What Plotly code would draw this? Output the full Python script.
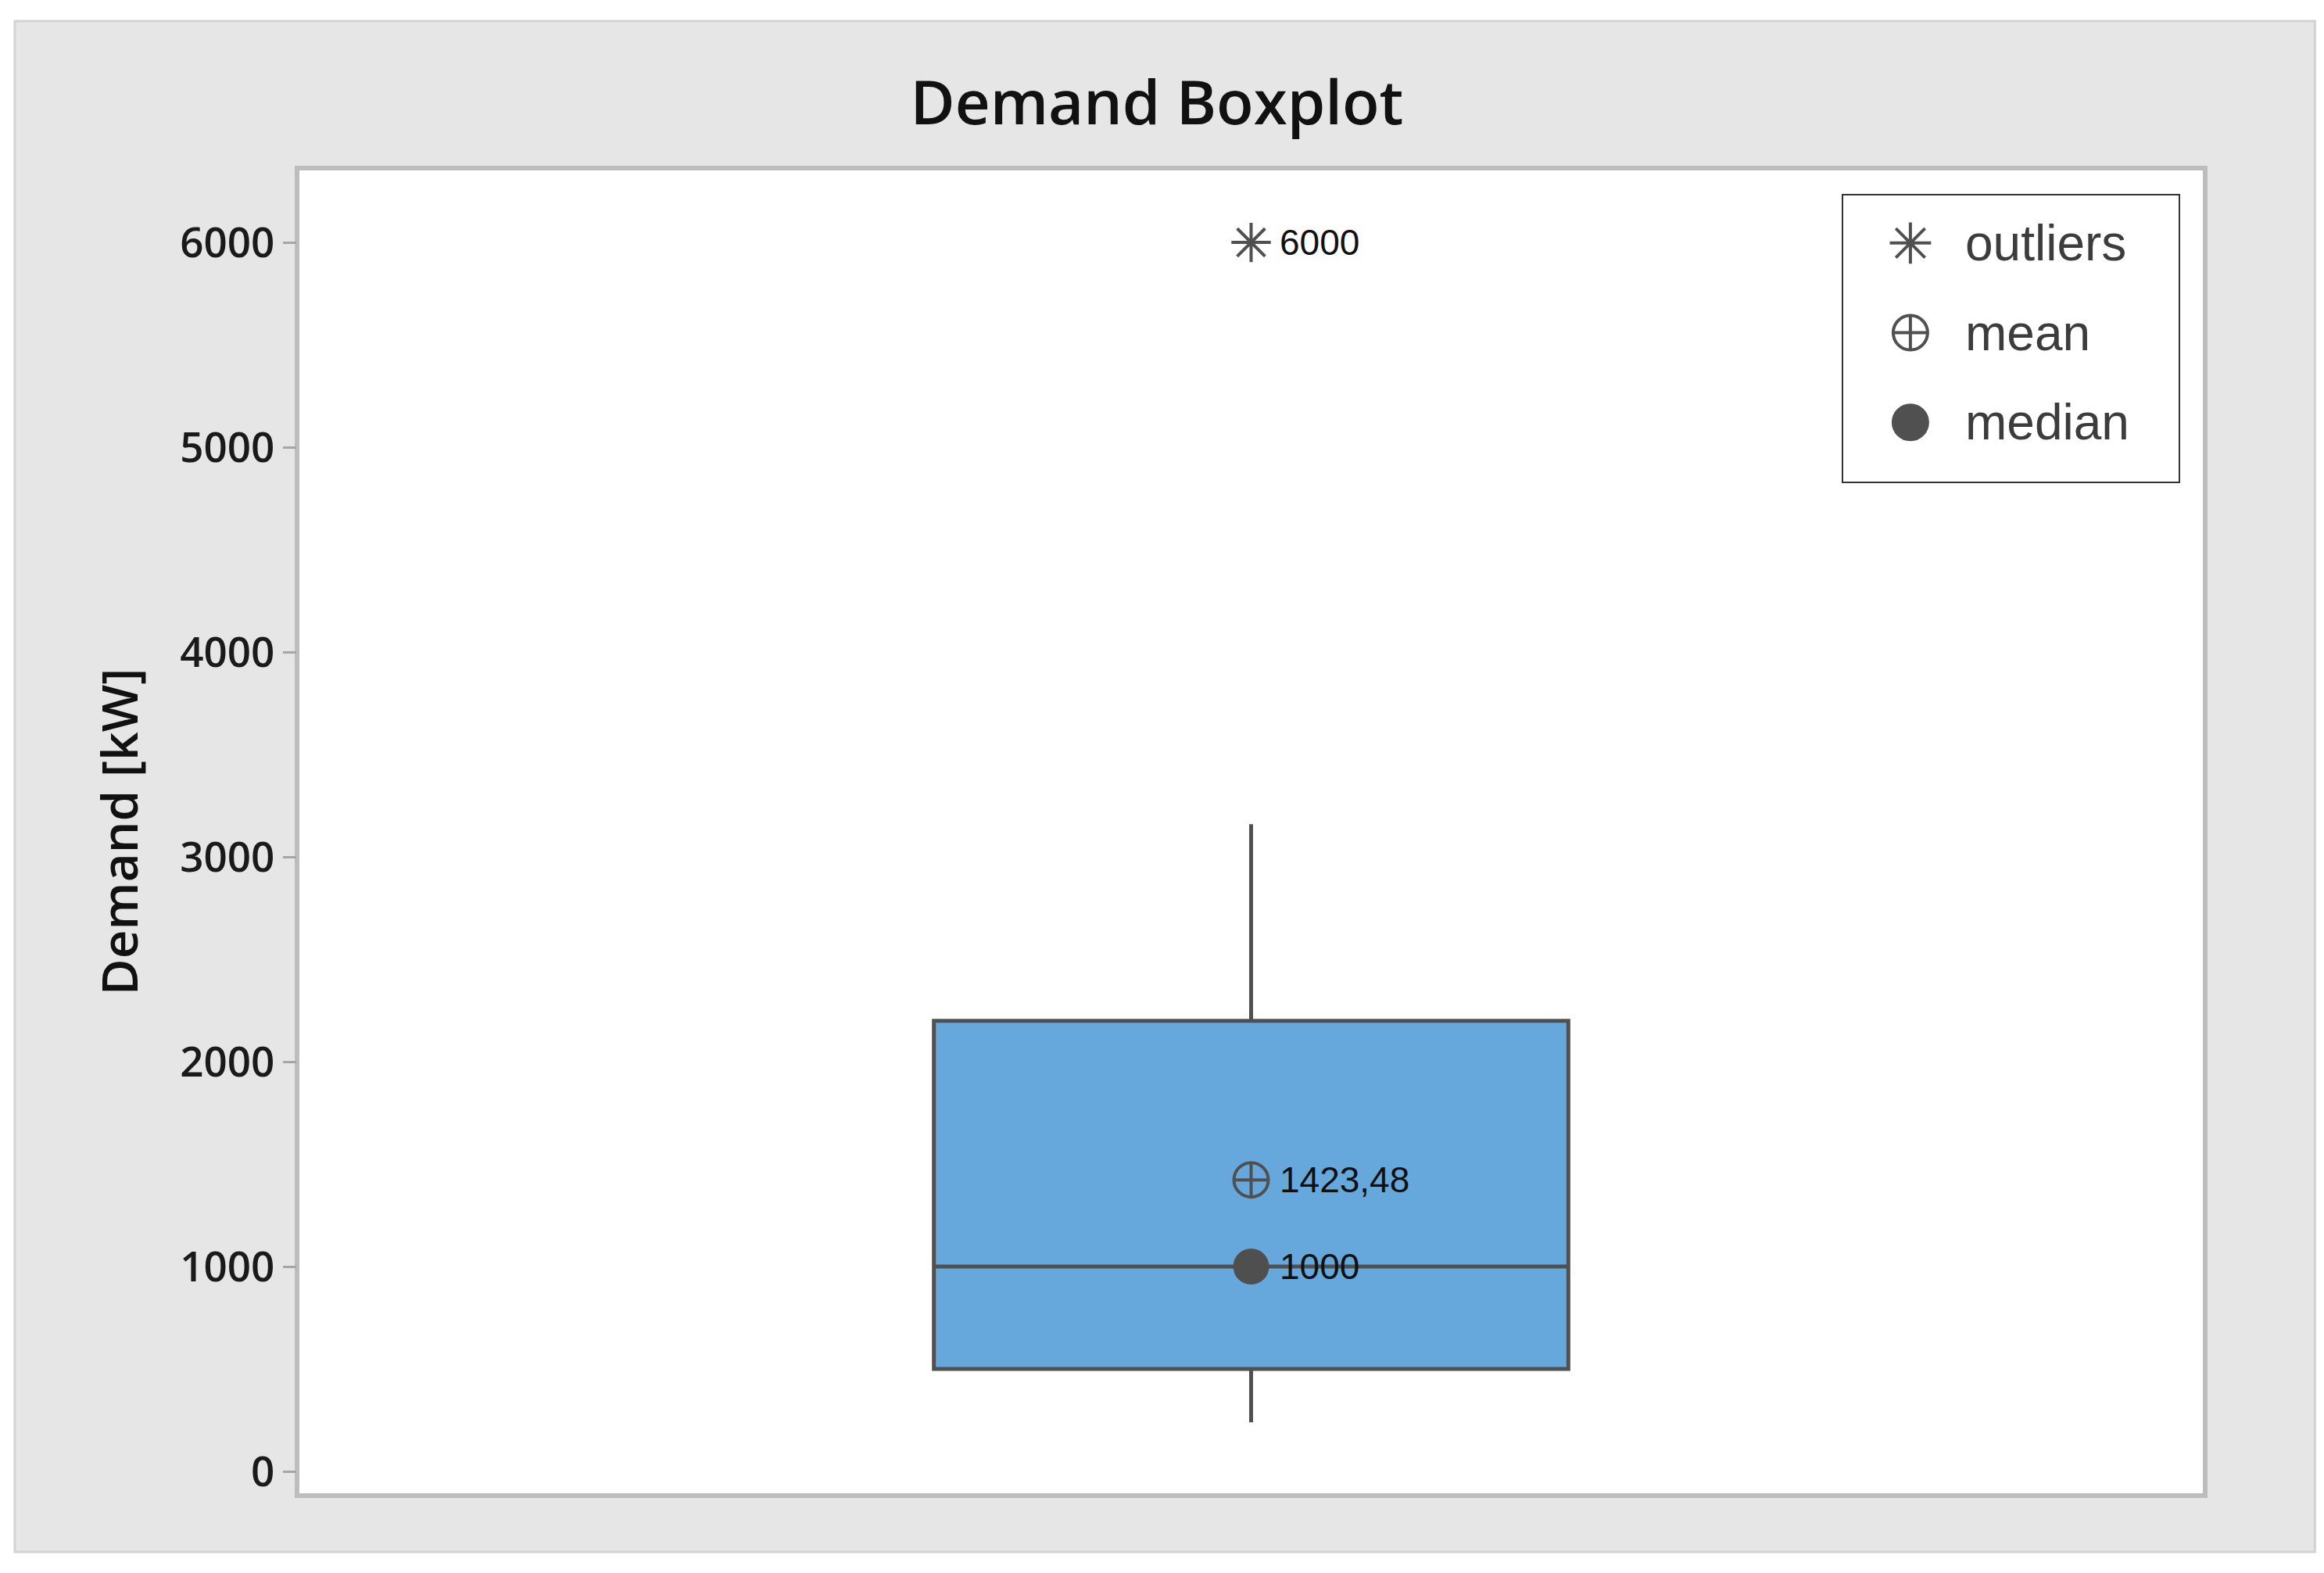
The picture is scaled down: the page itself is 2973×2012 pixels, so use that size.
import plotly.graph_objects as go

# Kennwerte des Boxplots
q1 = 500
median = 1000
q3 = 2200
lower_whisker = 240
upper_whisker = 3160
mean = 1423.48
outliers = [6000]

# Legende
legend_names = ['outliers', 'mean', 'median']
legend_symbols = ['asterisk-open', 'circle-cross-open', 'circle']

y_ticks = [0, 1000, 2000, 3000, 4000, 5000, 6000]

box_color = '#66a8dc'
dark = '#505050'


def fmt(v):
    if float(v).is_integer():
        return str(int(v))
    return f'{v:.2f}'.replace('.', ',')


fig = go.Figure()

# Box
fig.add_trace(go.Box(x=[0], q1=[q1], median=[median], q3=[q3],
                     lowerfence=[lower_whisker], upperfence=[upper_whisker],
                     width=0.665, whiskerwidth=0, boxpoints=False,
                     fillcolor=box_color, line=dict(color=dark, width=5),
                     showlegend=False, hoverinfo='skip'))

# Ausreißer, Mittelwert, Median
fig.add_trace(go.Scatter(x=[0] * len(outliers), y=outliers, mode='markers',
                         marker=dict(symbol='asterisk-open', size=42, color=dark,
                                     line=dict(color=dark, width=4)),
                         showlegend=False))
fig.add_trace(go.Scatter(x=[0], y=[mean], mode='markers',
                         marker=dict(symbol='circle-cross-open', size=44, color=dark,
                                     line=dict(color=dark, width=4)),
                         showlegend=False))
fig.add_trace(go.Scatter(x=[0], y=[median], mode='markers',
                         marker=dict(symbol='circle', size=46, color='#4f4f4f',
                                     line=dict(width=0)),
                         showlegend=False))

annotations = []
for v in outliers + [mean, median]:
    annotations.append(dict(x=0, y=v, xref='x', yref='y', text=fmt(v),
                            showarrow=False, xanchor='left', yanchor='middle',
                            xshift=34,
                            font=dict(family='Liberation Sans', size=46, color='#111111')))

# eigene Legende (große Symbole)
rows = [0.83, 0.52, 0.21]
fig.add_trace(go.Scatter(x=[0.203] * 3, y=rows, mode='markers', xaxis='x2', yaxis='y2',
                         marker=dict(symbol=legend_symbols, size=44, color=dark,
                                     line=dict(color=dark, width=4)),
                         showlegend=False, hoverinfo='skip'))
for name, r in zip(legend_names, rows):
    annotations.append(dict(x=0.36, y=r, xref='x2', yref='y2', text=name,
                            showarrow=False, xanchor='left', yanchor='middle',
                            font=dict(family='Liberation Sans', size=64, color='#3c3c3c')))

shapes = [
    # grauer Rahmen
    dict(type='rect', xref='paper', yref='paper', x0=-0.1479, x1=1.0575, y0=-0.0424, y1=1.1107,
         fillcolor='#e6e6e6', line=dict(color='#d2d2d2', width=3), layer='below'),
    # Plotfläche
    dict(type='rect', xref='paper', yref='paper', x0=0, x1=1, y0=0, y1=1,
         fillcolor='white', line=dict(color='#bdbdbd', width=6), layer='below'),
    # Legendenrahmen
    dict(type='rect', xref='x2', yref='y2', x0=0, x1=1, y0=0, y1=1,
         fillcolor='white', line=dict(color='#333333', width=4), layer='below'),
]

fig.update_layout(
    width=2957, height=1996,
    margin=dict(l=372, r=144, t=207, b=91),
    paper_bgcolor='white', plot_bgcolor='rgba(0,0,0,0)',
    title=dict(text='Demand Boxplot', x=0.4978, xanchor='center', y=0.938, yanchor='middle',
               font=dict(family='Open Sans', size=78, color='#111111', weight=600)),
    xaxis=dict(range=[-1, 1], visible=False),
    yaxis=dict(range=[-118, 6363], tickvals=y_ticks, ticks='outside', ticklen=17,
               tickwidth=3, tickcolor='#a6a6a6', showgrid=False, zeroline=False,
               showline=False,
               tickfont=dict(family='Open Sans', size=53, color='#1a1a1a', weight=600),
               title=dict(text='Demand [kW]', standoff=32,
                          font=dict(family='Open Sans', size=64, color='#111111', weight=600))),
    xaxis2=dict(domain=[0.8095, 0.9869], range=[0, 1], visible=False, anchor='y2'),
    yaxis2=dict(domain=[0.7627, 0.9806], range=[0, 1], visible=False, anchor='x2'),
    shapes=shapes,
    annotations=annotations,
)

fig.write_html('out.html')
